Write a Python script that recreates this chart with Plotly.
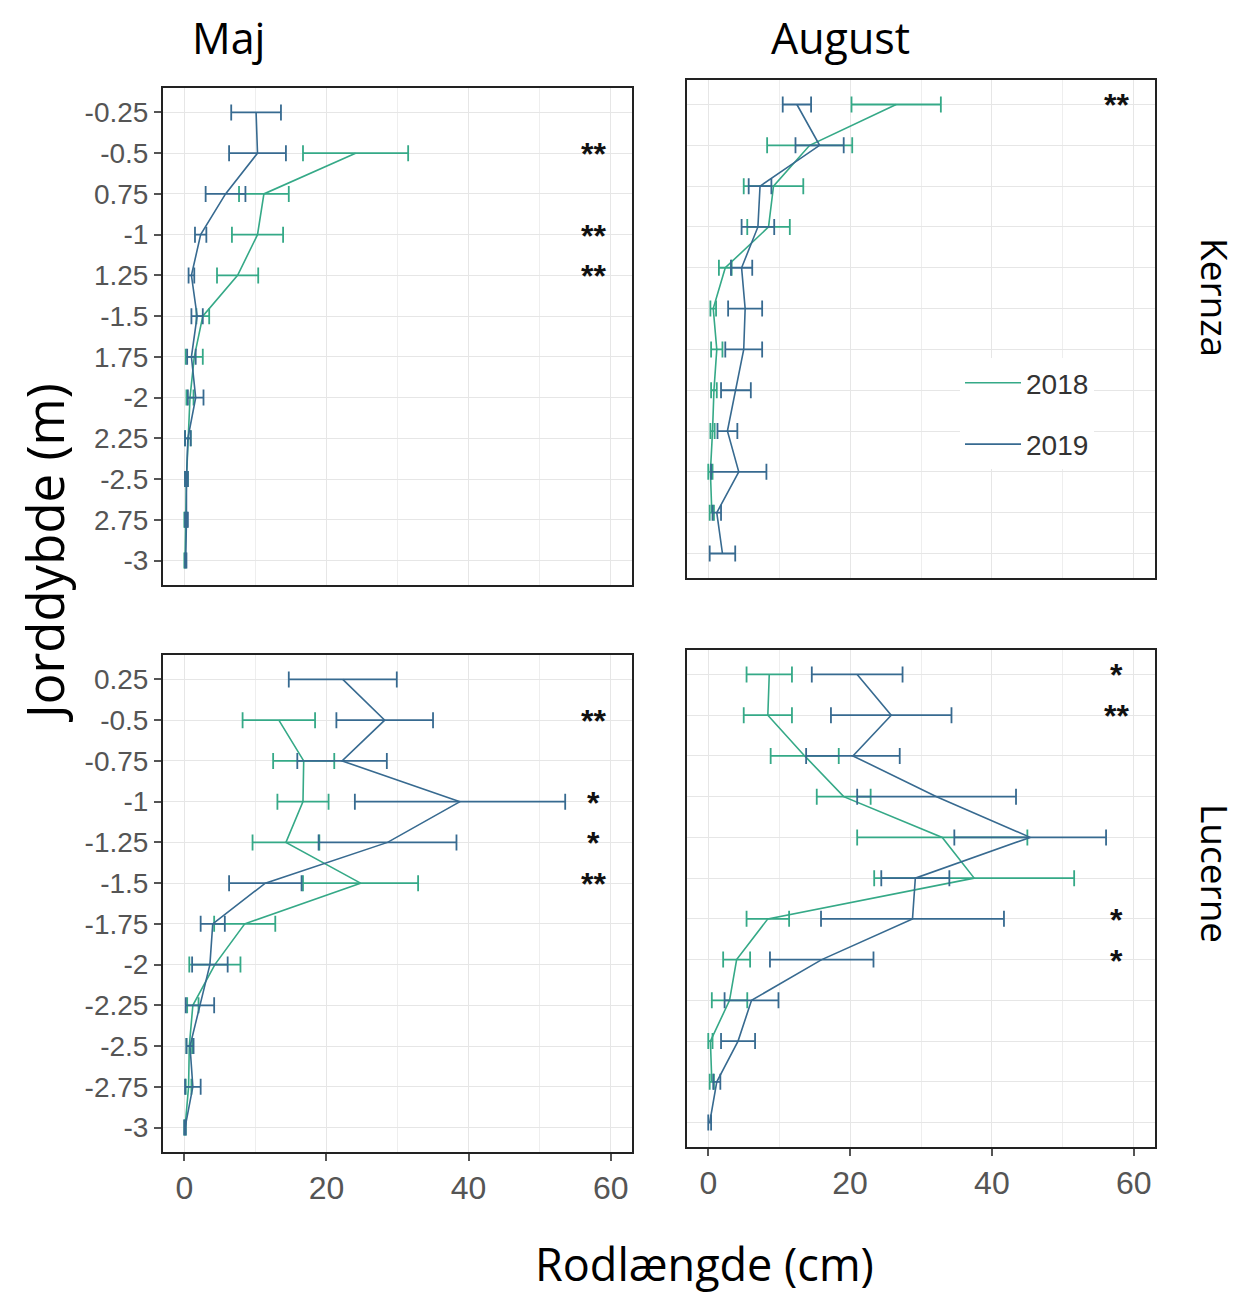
import plotly.graph_objects as go

# ---------------- data ----------------
top_labels = ["-0.25", "-0.5", "0.75", "-1", "1.25", "-1.5", "1.75", "-2", "2.25", "-2.5", "2.75", "-3"]
bot_labels = ["0.25", "-0.5", "-0.75", "-1", "-1.25", "-1.5", "-1.75", "-2", "-2.25", "-2.5", "-2.75", "-3"]

years = ["2018", "2019"]
colors = {"2018": "#35a987", "2019": "#376a90"}

# Kernza, Maj
k_maj_2018 = [None, 24.1, 11.2, 10.3, 7.5, 2.6, 1.4, 0.8, 0.5, 0.3, 0.2, 0.1]
k_maj_2018_se = [None, 7.4, 3.5, 3.6, 2.9, 0.9, 1.2, 0.5, 0.4, 0.2, 0.2, 0.1]
k_maj_2019 = [10.1, 10.3, 5.8, 2.3, 1.0, 1.8, 1.0, 1.6, 0.5, 0.3, 0.3, 0.2]
k_maj_2019_se = [3.5, 4.0, 2.8, 0.8, 0.4, 0.8, 0.6, 1.1, 0.4, 0.2, 0.2, 0.1]

# Kernza, August
k_aug_2018 = [26.5, 14.3, 9.2, 8.5, 2.4, 0.7, 1.2, 0.8, 0.6, 0.3, 0.5, None]
k_aug_2018_se = [6.3, 6.0, 4.2, 3.0, 0.9, 0.4, 0.8, 0.4, 0.3, 0.3, 0.3, None]
k_aug_2019 = [12.5, 15.7, 7.3, 7.0, 4.7, 5.2, 5.0, 3.9, 2.7, 4.3, 1.2, 2.0]
k_aug_2019_se = [2.0, 3.4, 1.6, 2.3, 1.5, 2.4, 2.6, 2.1, 1.4, 3.9, 0.6, 1.8]

# Lucerne, Maj
l_maj_2018 = [None, 13.3, 16.8, 16.7, 14.3, 24.8, 8.5, 4.3, 1.2, 0.7, 0.6, 0.1]
l_maj_2018_se = [None, 5.1, 4.3, 3.6, 4.7, 8.1, 4.3, 3.6, 0.8, 0.4, 0.4, 0.1]
l_maj_2019 = [22.3, 28.2, 22.2, 38.8, 28.6, 11.4, 4.0, 3.6, 2.2, 0.8, 1.2, 0.1]
l_maj_2019_se = [7.6, 6.8, 6.3, 14.8, 9.7, 5.1, 1.7, 2.5, 2.0, 0.5, 1.1, 0.1]

# Lucerne, August
l_aug_2018 = [8.6, 8.4, 13.6, 19.1, 33.0, 37.5, 8.4, 4.0, 3.0, 0.3, 0.5, None]
l_aug_2018_se = [3.2, 3.4, 4.8, 3.8, 12.0, 14.1, 3.0, 1.9, 2.5, 0.3, 0.3, None]
l_aug_2019 = [21.0, 25.8, 20.4, 32.2, 45.4, 29.2, 28.8, 16.0, 6.1, 4.2, 1.2, 0.2]
l_aug_2019_se = [6.4, 8.5, 6.6, 11.2, 10.7, 4.8, 12.9, 7.3, 3.8, 2.4, 0.5, 0.2]

# significance marks
k_maj_sig = {"-0.5": "**", "-1": "**", "1.25": "**"}
k_aug_sig = {"-0.25": "**"}
l_maj_sig = {"-0.5": "**", "-1": "*", "-1.25": "*", "-1.5": "**"}
l_aug_sig = {"0.25": "*", "-0.5": "**", "-1.75": "*", "-2": "*"}
sig_x = 57.6

x_ticks = [0, 20, 40, 60]
x_minor = [10, 30, 50]

# ---------------- figure ----------------
OFF = 8                      # page body margin
W, H = 1250 - OFF, 1295 - OFF


def px_x(p):
    return (p - OFF) / W


def px_y(p):
    return 1 - (p - OFF) / H


fig = go.Figure()

panels = [
    ("", top_labels, k_maj_2018, k_maj_2018_se, k_maj_2019, k_maj_2019_se, k_maj_sig, (163, 632), (88, 585)),
    ("2", top_labels, k_aug_2018, k_aug_2018_se, k_aug_2019, k_aug_2019_se, k_aug_sig, (687, 1155), (80, 578)),
    ("3", bot_labels, l_maj_2018, l_maj_2018_se, l_maj_2019, l_maj_2019_se, l_maj_sig, (163, 632), (655, 1152)),
    ("4", bot_labels, l_aug_2018, l_aug_2018_se, l_aug_2019, l_aug_2019_se, l_aug_sig, (687, 1155), (650, 1147)),
]

tick_font = dict(family="Liberation Sans, Arial, sans-serif", size=28, color="#555555")
xtick_font = dict(family="Liberation Sans Narrow, Liberation Sans, Arial, sans-serif", size=32, color="#555555")

for i, (sfx, labels, d18, s18, d19, s19, sig, dx, dy) in enumerate(panels):
    xa = "x" + sfx
    ya = "y" + sfx
    for yr, vals, ses in (("2018", d18, s18), ("2019", d19, s19)):
        xs = [v for v in vals if v is not None]
        ys = [lab for lab, v in zip(labels, vals) if v is not None]
        es = [e for e, v in zip(ses, vals) if v is not None]
        fig.add_trace(go.Scatter(
            x=xs, y=ys, mode="lines", name=yr,
            line=dict(color=colors[yr], width=1.6),
            error_x=dict(type="data", array=es, symmetric=True, color=colors[yr],
                         thickness=1.8, width=8),
            xaxis=xa, yaxis=ya,
            legendgroup=yr, showlegend=(i == 1),
        ))
    for lab, txt in sig.items():
        fig.add_annotation(x=sig_x, y=labels.index(lab), xref=xa, yref=ya, text="<b>" + txt + "</b>",
                           showarrow=False, xanchor="center", yanchor="middle",
                           font=dict(family="Liberation Sans, Arial", size=32, color="#111111"),
                           yshift=-1)

    is_bottom = i >= 2
    is_left = i % 2 == 0
    xkey = "xaxis" + sfx
    ykey = "yaxis" + sfx
    fig.update_layout(**{
        xkey: dict(
            domain=[px_x(dx[0]), px_x(dx[1])], anchor=ya, range=[-3.0, 63.0],
            tickvals=x_ticks, ticktext=[str(t) for t in x_ticks],
            showticklabels=is_bottom,
            ticks="outside" if is_bottom else "", ticklen=7, tickcolor="#555555", tickwidth=1.5,
            tickfont=xtick_font,
            showgrid=True, gridcolor="#e6e6e6", gridwidth=1.2,
            minor=dict(tickvals=x_minor, showgrid=True, gridcolor="#eeeeee", gridwidth=1),
            showline=True, linecolor="#222222", linewidth=2, mirror=True,
            zeroline=False, fixedrange=True,
        ),
        ykey: dict(
            domain=[px_y(dy[1]), px_y(dy[0])], anchor=xa,
            type="category", categoryorder="array", categoryarray=labels,
            range=[11.6, -0.6],
            tickvals=labels, ticktext=labels,
            showticklabels=is_left,
            ticks="outside" if is_left else "", ticklen=7, tickcolor="#555555", tickwidth=1.5,
            tickfont=tick_font,
            showgrid=True, gridcolor="#e6e6e6", gridwidth=1.2,
            showline=True, linecolor="#222222", linewidth=2, mirror=True,
            zeroline=False, fixedrange=True,
        ),
    })

title_font = dict(family="Open Sans, Noto Sans, sans-serif", size=43, color="#000000")
xlab_font = dict(family="Open Sans, Noto Sans, sans-serif", size=45, color="#000000")
strip_font = dict(family="Open Sans, Noto Sans, sans-serif", size=37, color="#000000")


def label(px, py, text, font, angle=0):
    fig.add_annotation(x=px_x(px), y=px_y(py), xref="paper", yref="paper", text=text,
                       showarrow=False, xanchor="center", yanchor="middle",
                       font=font, textangle=angle)


label(228, 38, "Maj", title_font)
label(840, 38, "August", title_font)
label(1216, 297, "Kernza", strip_font, 90)
label(1216, 873, "Lucerne", strip_font, 90)
label(44, 553, "Jorddybde (m)", dict(family="Open Sans, Noto Sans, sans-serif", size=51, color="#000"), -90)
label(704, 1263, "Rodlængde (cm)", xlab_font)

fig.update_layout(
    width=W, height=H,
    margin=dict(l=0, r=0, t=0, b=0),
    paper_bgcolor="white", plot_bgcolor="white",
    showlegend=True,
    legend=dict(
        x=px_x(960), y=px_y(358), xanchor="left", yanchor="top",
        bgcolor="white", borderwidth=0,
        font=dict(family="Liberation Sans, Arial, sans-serif", size=28, color="#333333"),
        tracegroupgap=22, itemwidth=56,
    ),
)

fig.write_html("out.html")
